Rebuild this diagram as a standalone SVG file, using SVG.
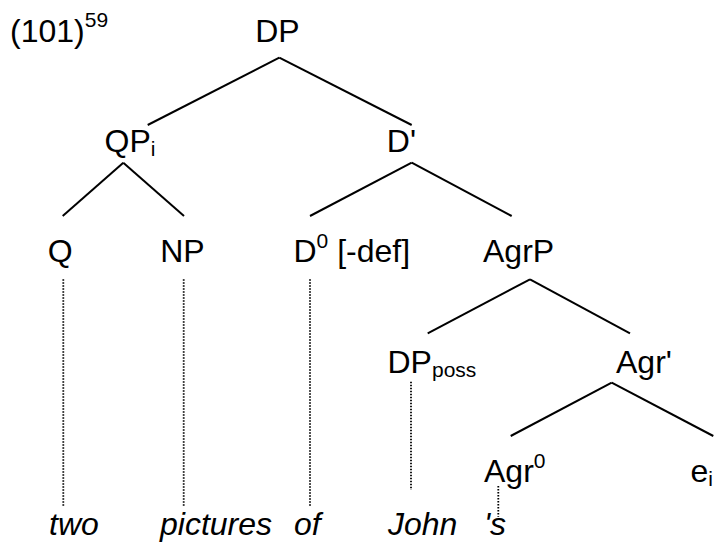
<svg xmlns="http://www.w3.org/2000/svg" width="715" height="542" viewBox="0 0 715 542">
<style>
text{font-family:"Liberation Sans",Arial,sans-serif;font-size:32px;fill:#000}
.sm{font-size:21px}
.it{font-style:italic}
.br{stroke:#000;stroke-width:2;fill:none}
.dot{stroke:#000;stroke-width:1.8;stroke-dasharray:1.5 1.5;fill:none}
</style>
<rect width="715" height="542" fill="#fff"/>
<text id="label" x="10" y="42">(101)<tspan class="sm" dy="-15">59</tspan></text>
<g id="connectors">
<line class="br" x1="279.3" y1="57.7" x2="147.7" y2="125"/>
<line class="br" x1="279.3" y1="57.7" x2="411.7" y2="125"/>
<line class="br" x1="123.3" y1="162.7" x2="62.7" y2="216"/>
<line class="br" x1="123.3" y1="162.7" x2="184" y2="216"/>
<line class="br" x1="411.7" y1="162.7" x2="310" y2="216"/>
<line class="br" x1="411.7" y1="162.7" x2="511.7" y2="216"/>
<line class="br" x1="530" y1="279.3" x2="427.7" y2="333.3"/>
<line class="br" x1="530" y1="279.3" x2="630" y2="333.3"/>
<line class="br" x1="611.7" y1="382.7" x2="510.7" y2="436"/>
<line class="br" x1="611.7" y1="382.7" x2="713.3" y2="436"/>
<line class="dot" x1="63.3" y1="279.3" x2="63.3" y2="506.7"/>
<line class="dot" x1="183.7" y1="279.3" x2="183.7" y2="506.7"/>
<line class="dot" x1="310" y1="279.3" x2="310" y2="506.7"/>
<line class="dot" x1="411" y1="381.7" x2="411" y2="490"/>
<line class="dot" x1="498.3" y1="486" x2="498.3" y2="516.7"/>
</g>
<g id="DP"><text x="255.2" y="41.7">DP</text></g>
<g id="QP"><text x="104.5" y="152">QP<tspan class="sm" dy="4">i</tspan></text></g>
<g id="Dbar"><text x="386.8" y="152">D'</text></g>
<g id="Q"><text x="47.8" y="261.7">Q</text></g>
<g id="NP"><text x="160.2" y="261.7">NP</text></g>
<g id="D0"><text x="293.5" y="261.7">D<tspan class="sm" dy="-14">0</tspan><tspan dy="14"> [-def]</tspan></text></g>
<g id="AgrP"><text x="483" y="261.7">AgrP</text></g>
<g id="DPposs"><text x="387.5" y="373">DP<tspan class="sm" dy="4">poss</tspan></text></g>
<g id="Agrbar"><text x="616" y="373">Agr'</text></g>
<g id="Agr0"><text x="484" y="481.7">Agr<tspan class="sm" dy="-14">0</tspan></text></g>
<g id="e"><text x="690.4" y="481.7">e<tspan class="sm" dy="4">i</tspan></text></g>
<g id="words">
<text class="it" x="49" y="535">two</text>
<text class="it" x="160" y="535">pictures</text>
<text class="it" x="294" y="535">of</text>
<text class="it" x="388" y="535">John</text>
<text class="it" x="484" y="535">'s</text>
</g>
</svg>
